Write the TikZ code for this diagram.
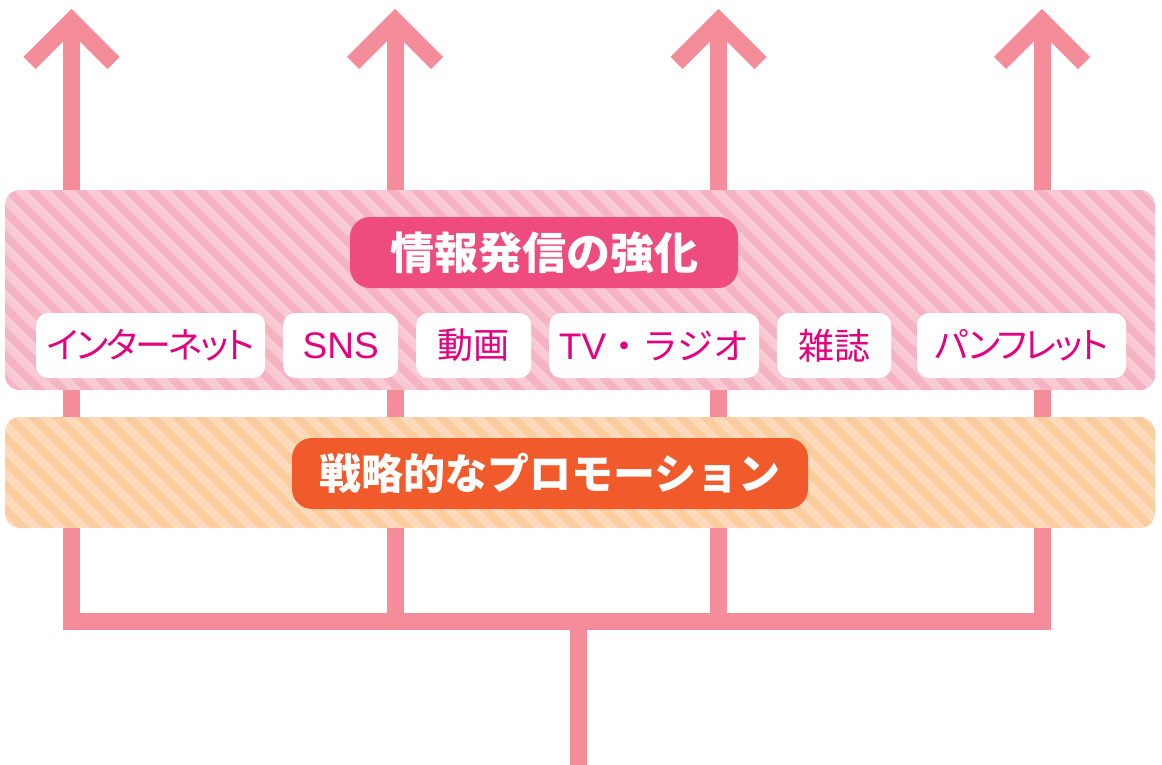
\documentclass[tikz,border=0pt]{standalone}
\usepackage{fontspec}
\usetikzlibrary{calc}
\newfontfamily\jp{Noto Sans CJK JP}
\newfontfamily\jpp[RawFeature=+palt,LetterSpace=-6]{Noto Sans CJK JP}
\newfontfamily\lat{Liberation Sans}
\definecolor{arrowpink}{HTML}{F48C99}
\definecolor{pinklight}{HTML}{F9C9D4}
\definecolor{pinkdark}{HTML}{F5B4C3}
\definecolor{orlight}{HTML}{FDDBBA}
\definecolor{ordark}{HTML}{FBCC9E}
\definecolor{titlepink}{HTML}{EE4B7E}
\definecolor{promoorange}{HTML}{F15A2B}
\definecolor{labelmag}{HTML}{E4007F}
\begin{document}
\begin{tikzpicture}[x=1pt,y=-1pt,
  flow/.style={draw=arrowpink,line width=17pt,line join=miter},
  headstyle/.style={draw=arrowpink,line width=17pt,line join=miter,line cap=butt},
  labelbox/.style={fill=white,rounded corners=12pt,minimum height=65pt,inner sep=0pt,
     text=labelmag,font=\jp\fontsize{36}{38}\selectfont,anchor=west},
  titlebox/.style={rounded corners=20pt,minimum height=71pt,inner sep=0pt,text=white}
  ]
\useasboundingbox (0,0) rectangle (1162,765);
% connector coordinates
\foreach \n/\x in {1/71.5,2/395,3/718.5,4/1042}{
  \coordinate (top\n) at (\x,21);
  \coordinate (base\n) at (\x,621.5);
}
\coordinate (stem) at (578,765);
\coordinate (junction) at (578,621.5);
% tree of lines
\draw[flow] (top1) -- (base1) -- (base4) -- (top4);
\draw[flow] (top2) -- (base2);
\draw[flow] (top3) -- (base3);
\draw[flow] (junction) -- (stem);
% heads
\foreach \n in {1,2,3,4}{
  \draw[headstyle] ($(top\n)+(-42,42)$) -- (top\n) -- ($(top\n)+(42,42)$);
}
% pink band
\begin{scope}
  \clip[rounded corners=15pt] (5,190) rectangle (1155,390);
  \fill[pinklight] (5,190) rectangle (1155,390);
  \foreach \i in {-300,-276,...,1200}{
    \draw[pinkdark,line width=8pt] (\i,170) -- (\i+260,430);
  }
\end{scope}
% orange band
\begin{scope}
  \clip[rounded corners=15pt] (5,417) rectangle (1155,528);
  \fill[orlight] (5,417) rectangle (1155,528);
  \foreach \i in {-200,-176,...,1200}{
    \draw[ordark,line width=8pt] (\i,400) -- (\i+150,550);
  }
\end{scope}
% title boxes
\node[titlebox,fill=titlepink,minimum width=388pt,font=\jp\bfseries\fontsize{44}{46}\selectfont] (title) at (544,252.5) {情報発信の強化};
\node[titlebox,fill=promoorange,minimum width=516pt,font=\jp\bfseries\fontsize{42}{44}\selectfont] (promo) at (550,473.5) {戦略的なプロモーション};
% label boxes
\node[labelbox,minimum width=229pt,font=\jpp\fontsize{36}{38}\selectfont] (net) at (36,345.5) {インターネット};
\node[labelbox,minimum width=115pt,font=\lat\fontsize{37}{38}\selectfont] (sns) at (283,345.5) {SNS};
\node[labelbox,minimum width=115pt] (movie) at (416,345.5) {動画};
\node[labelbox,minimum width=210pt] (tv) at (549,345.5) {{\lat\fontsize{37}{38}\selectfont TV}・ラジオ};
\node[labelbox,minimum width=114pt] (mag) at (777,345.5) {雑誌};
\node[labelbox,minimum width=209pt,font=\jpp\fontsize{36}{38}\selectfont] (pam) at (917,345.5) {パンフレット};
\end{tikzpicture}
\end{document}
